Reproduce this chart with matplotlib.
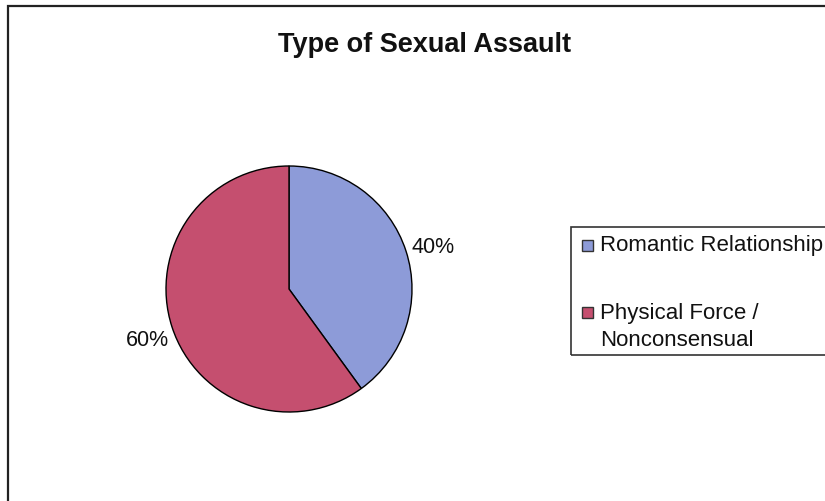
import matplotlib.pyplot as plt
from matplotlib.patches import Rectangle

# Data
categories = ['Romantic Relationship', 'Physical Force /\nNonconsensual']
shares = [40, 60]
colors = ['#8D9BD8', '#C54F6F']

plt.rcParams['font.family'] = ['Liberation Sans', 'DejaVu Sans']

W, H = 825, 502
fig = plt.figure(figsize=(W / 100, H / 100), dpi=100)
ax = fig.add_axes([0, 0, 1, 1])

# chart frame (right and bottom edges run off the picture)
ax.add_patch(Rectangle((8, -10), 840, H - 7 + 10, fill=False, ec='#222222', lw=1.6))

wedges, texts, autotexts = ax.pie(
    shares, colors=colors, startangle=90, counterclock=False,
    center=(289, H - 290), radius=123, frame=True,
    autopct='%d%%', pctdistance=1.22, labeldistance=None,
    wedgeprops=dict(edgecolor='black', linewidth=1.0),
    textprops=dict(fontsize=15.5, color='#111111'))
for t in autotexts:
    x, y = t.get_position()
    t.set_position((x + 1, y - 4))

ax.set_xlim(0, W)
ax.set_ylim(0, H)
ax.set_aspect('equal')
ax.axis('off')

ax.text(425, H - 45, 'Type of Sexual Assault', ha='center', va='center',
        fontsize=19.5, fontweight='bold', color='#111111')

# legend box, drawn by hand so the two-line entry sits like the original
ax.add_patch(Rectangle((571, H - 356), 300, 128, fill=False, ec='#333333', lw=1.2))
entry_y = [246, 313]
for wedge, label, y in zip(wedges, categories, entry_y):
    ax.add_patch(Rectangle((582, H - y - 5.5), 11, 11, fc=wedge.get_facecolor(),
                           ec='#333333', lw=1.0))
    for i, line in enumerate(label.split('\n')):
        ax.text(600, H - y - 28 * i, line, ha='left', va='center',
                fontsize=16, color='#111111')

fig.savefig('out.png', dpi=100)
